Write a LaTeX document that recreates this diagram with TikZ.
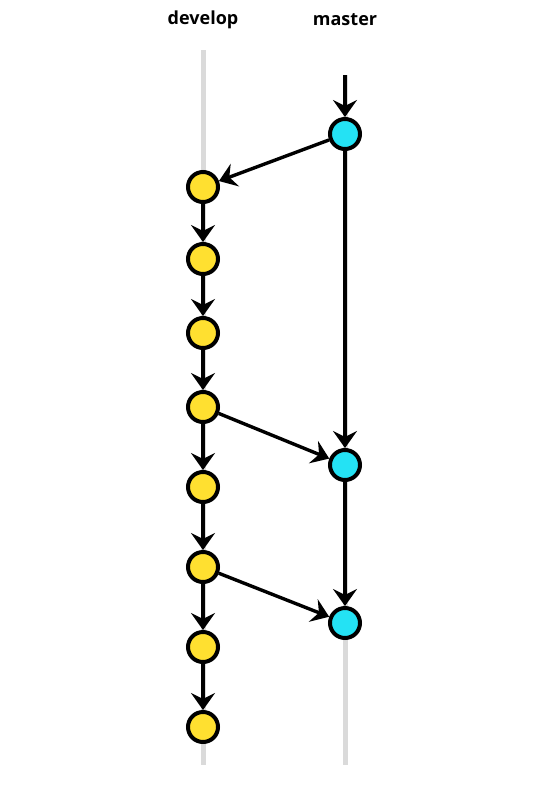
\documentclass[tikz,border=0pt]{standalone}
\usepackage{fontspec}
\setmainfont{Open Sans}
\usetikzlibrary{arrows.meta}
\definecolor{devyellow}{RGB}{255,224,48}
\definecolor{mastercyan}{RGB}{36,226,244}
\definecolor{lanegray}{RGB}{218,218,218}
\tikzset{
  commit/.style={circle,draw=black,line width=4pt,minimum size=30pt,inner sep=0pt},
  devcommit/.style={commit,fill=devyellow},
  mastercommit/.style={commit,fill=mastercyan},
  flow/.style={line width=3.4pt,-{Stealth[length=17pt,width=24pt,inset=6pt]}},
  lane/.style={lanegray,line width=5pt},
  branchname/.style={font=\bfseries\fontsize{18}{20}\selectfont}
}
\begin{document}
\begin{tikzpicture}[x=1pt,y=-1pt]
  \useasboundingbox (0,0) rectangle (534,804);
  \node[branchname] (devlabel) at (203,20) {develop};
  \node[branchname] (masterlabel) at (345,20) {master};
  % lanes behind the commits
  \coordinate (devtop) at (203,50);
  \coordinate (devbot) at (203,765);
  \coordinate (mtop) at (345,75);
  \coordinate (mbot) at (345,765);
  \draw[lane] (devtop) -- (devbot);
  \draw[lane] (mtop) -- (mbot);
  % commits: develop 8, master 3
  \foreach \n/\y in {1/187,2/259,3/333,4/407,5/487,6/567,7/647,8/727}
    \node[devcommit] (d\n) at (203,\y) {};
  \foreach \n/\y in {1/134,2/465,3/623}
    \node[mastercommit] (m\n) at (345,\y) {};
  % history along each branch
  \foreach \n [remember=\n as \p (initially 1)] in {2,...,8}
    \draw[flow] (d\p) -- (d\n);
  \draw[flow] (mtop) -- (m1);
  \draw[flow] (m1) -- (m2);
  \draw[flow] (m2) -- (m3);
  % merges between branches
  \draw[flow] (m1) -- (d1);
  \draw[flow] (d4) -- (m2);
  \draw[flow] (d6) -- (m3);
\end{tikzpicture}
\end{document}
